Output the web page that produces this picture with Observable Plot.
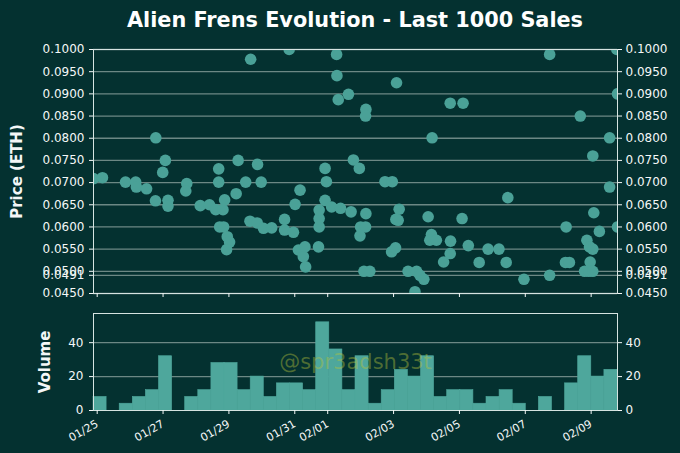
<!DOCTYPE html>
<html>
<head>
<meta charset="utf-8">
<script src="https://cdn.jsdelivr.net/npm/d3@7"></script>
<script src="https://cdn.jsdelivr.net/npm/@observablehq/plot@0.6"></script>
<style>
html, body { margin: 0; padding: 0; background: #043130; width: 680px; height: 453px; overflow: hidden; font-family: "DejaVu Sans", sans-serif; }
#title { height: 40px; line-height: 41px; padding-left: 30px; text-align: center; color: #ffffff; font-weight: bold; font-size: 20.8px; white-space: nowrap; }
svg { display: block; }
</style>
</head>
<body>
<div id="title">Alien Frens Evolution - Last 1000 Sales</div>
<div id="chart"></div>
<script>
// ---- data (days since 2022-01-25 00:00 UTC, price in ETH) ----
const saleDay = [
  -0.112, 0.16, 0.86, 1.17, 1.19, 1.50, 1.78, 1.77, 2.07, 1.99, 2.15, 2.15, 2.72, 2.69,
  3.13, 3.41, 3.60, 3.82, 3.87, 3.69, 3.69, 3.72, 3.84, 3.95, 4.02, 3.93, 4.22, 4.28,
  4.66, 4.51, 4.87, 4.98, 4.64, 4.86, 5.05,
  5.30, 5.69, 5.69, 5.96, 5.83, 6.01, 6.16, 6.11, 6.31, 6.26, 6.33, 6.72, 6.74, 6.74,
  6.74, 6.92, 6.96, 6.92, 7.12, 7.39, 7.71, 7.27, 7.28, 7.32, 7.63, 7.78, 7.96, 8.16,
  8.15, 8.16, 8.00, 8.15, 7.98, 8.10, 8.28, 8.74, 8.96, 9.09, 9.17, 9.07, 9.14, 8.94,
  9.06, 9.44, 9.70, 9.80, 9.92, 9.65, 10.05, 10.17, 10.15, 10.10, 10.30, 10.52,
  10.73, 10.72, 10.72, 11.11, 11.08, 11.27, 11.60, 11.87, 12.20, 12.42, 12.47, 12.96,
  13.74, 13.74, 14.24, 14.22, 14.34, 14.67, 14.87, 14.95, 15.05, 14.97, 14.80, 14.93,
  15.05, 15.05, 15.08, 15.25, 15.56, 15.56, 15.78, 15.80, 15.80
];
const salePrice = [
  0.0709, 0.0711, 0.0701, 0.0701, 0.0690, 0.0686, 0.0801, 0.0659, 0.0750, 0.0723, 0.0660, 0.0647, 0.0698, 0.0681,
  0.0648, 0.0650, 0.0639, 0.0639, 0.0661, 0.0731, 0.0701, 0.0600, 0.0600, 0.0578, 0.0566, 0.0549, 0.0675, 0.0750,
  0.0978, 0.0701, 0.0741, 0.0701, 0.0613, 0.0609, 0.0597,
  0.0598, 0.0617, 0.0593, 0.0588, 0.1000, 0.0651, 0.0683, 0.0548, 0.0555, 0.0533, 0.0510, 0.0555, 0.0600, 0.0619,
  0.0638, 0.0732, 0.0702, 0.0660, 0.0645, 0.0642, 0.0634, 0.0989, 0.0941, 0.0887, 0.0899, 0.0751, 0.0732, 0.0865,
  0.0850, 0.0630, 0.0600, 0.0600, 0.0580, 0.0500, 0.0500, 0.0702, 0.0702, 0.0925, 0.0640, 0.0617, 0.0615, 0.0544,
  0.0553, 0.0500, 0.0500, 0.0491, 0.0482, 0.0454, 0.0623, 0.0801, 0.0583, 0.0570, 0.0570, 0.0521,
  0.0568, 0.0540, 0.0879, 0.0879, 0.0619, 0.0558, 0.0520, 0.0550, 0.0550, 0.0520, 0.0666, 0.0482,
  0.0989, 0.0491, 0.0600, 0.0520, 0.0520, 0.0850, 0.0570, 0.0555, 0.0550, 0.0521, 0.0500, 0.0500,
  0.0500, 0.0760, 0.0632, 0.0590, 0.0801, 0.0690, 0.1000, 0.0900, 0.0600
];
const priceTicks = [0.045, 0.0491, 0.050, 0.055, 0.060, 0.065, 0.070, 0.075, 0.080, 0.085, 0.090, 0.095, 0.100];
const dateTickLabels = ["2022-01-25", "2022-01-27", "2022-01-29", "2022-01-31", "2022-02-01",
                        "2022-02-03", "2022-02-05", "2022-02-07", "2022-02-09"];
const volumeCounts = [8, 0, 4, 8, 12, 32, 0, 8, 12, 28, 28, 12, 20, 8, 16, 16, 12, 52, 36, 12,
                      32, 4, 12, 24, 20, 32, 8, 12, 12, 4, 8, 12, 4, 0, 8, 0, 16, 32, 20, 24];
const volumeTicks = [0, 20, 40];
const titleText = "Alien Frens Evolution - Last 1000 Sales";
const watermark = "@spr3adsh33t";

// ---- derived tables ----
const BASE = Date.UTC(2022, 0, 25);
const sales = saleDay.map((d, i) => ({ date: new Date(BASE + d * 864e5), price: salePrice[i] }));
const [t0, t1] = d3.extent(sales, d => d.date);
const binW = (t1 - t0) / volumeCounts.length;
const bins = volumeCounts.map((c, i) => ({ x1: new Date(+t0 + i * binW), x2: new Date(+t0 + (i + 1) * binW), count: c }));
const xTicks = dateTickLabels.map(s => new Date(s + "T00:00:00Z"));

const GRID = "#6c8884";
const DOT = "#4aa197";
const BAR = "#4ea79c";
const FRAME = "#d6e4e1";
const TEXT = "#f4f7f7";
const baseStyle = { background: "transparent", color: TEXT, fontFamily: "DejaVu Sans, sans-serif", fontSize: "12px", overflow: "visible" };

const priceChart = Plot.plot({
  width: 680, height: 261,
  marginLeft: 93, marginRight: 63, marginTop: 9, marginBottom: 8,
  style: baseStyle,
  x: { type: "utc", domain: [t0, t1] },
  y: { domain: [0.045, 0.1] },
  marks: [
    Plot.ruleY(priceTicks, { stroke: GRID, strokeWidth: 1.3 }),
    Plot.dot(sales, { x: "date", y: "price", r: 5.8, fill: DOT, clip: true }),
    Plot.frame({ stroke: FRAME }),
    Plot.axisY(priceTicks, { anchor: "left", tickFormat: d3.format(".4f"), tickSize: 4, tickPadding: 5, label: null }),
    Plot.axisY(priceTicks, { anchor: "right", tickFormat: d3.format(".4f"), tickSize: 4, tickPadding: 4, label: null }),
    Plot.axisX(xTicks, { anchor: "bottom", tickFormat: () => "", tickSize: 4, label: null }),
    Plot.text(["Price (ETH)"], { frameAnchor: "left", textAnchor: "middle", dx: -76, rotate: -90, fontWeight: "bold", fontSize: 15, fill: TEXT })
  ]
});

const volumeChart = Plot.plot({
  width: 680, height: 152,
  marginLeft: 93, marginRight: 63, marginTop: 12, marginBottom: 43,
  style: baseStyle,
  x: { type: "utc", domain: [t0, t1] },
  y: { domain: [0, d3.max(volumeCounts) * 1.1] },
  marks: [
    Plot.ruleY(volumeTicks.slice(1), { stroke: GRID, strokeWidth: 1.3 }),
    Plot.rectY(bins, { x1: "x1", x2: "x2", y: "count", fill: BAR, stroke: BAR, strokeWidth: 0.6, inset: 0 }),
    Plot.text([watermark], { frameAnchor: "middle", fontSize: 21, fill: "#b9c43a", fillOpacity: 0.42 }),
    Plot.frame({ stroke: FRAME }),
    Plot.axisY(volumeTicks, { anchor: "left", tickSize: 4, tickPadding: 6, label: null }),
    Plot.axisY(volumeTicks, { anchor: "right", tickSize: 4, tickPadding: 4, label: null }),
    Plot.axisX(xTicks, { anchor: "bottom", tickFormat: d3.utcFormat("%m/%d"), tickRotate: -30, tickSize: 4, fontSize: 11, label: null }),
    Plot.text(["Volume"], { frameAnchor: "left", textAnchor: "middle", dx: -48, rotate: -90, fontWeight: "bold", fontSize: 15, fill: TEXT })
  ]
});

document.getElementById("title").textContent = titleText;
const chartEl = document.getElementById("chart");
chartEl.appendChild(priceChart);
chartEl.appendChild(volumeChart);
</script>
</body>
</html>
